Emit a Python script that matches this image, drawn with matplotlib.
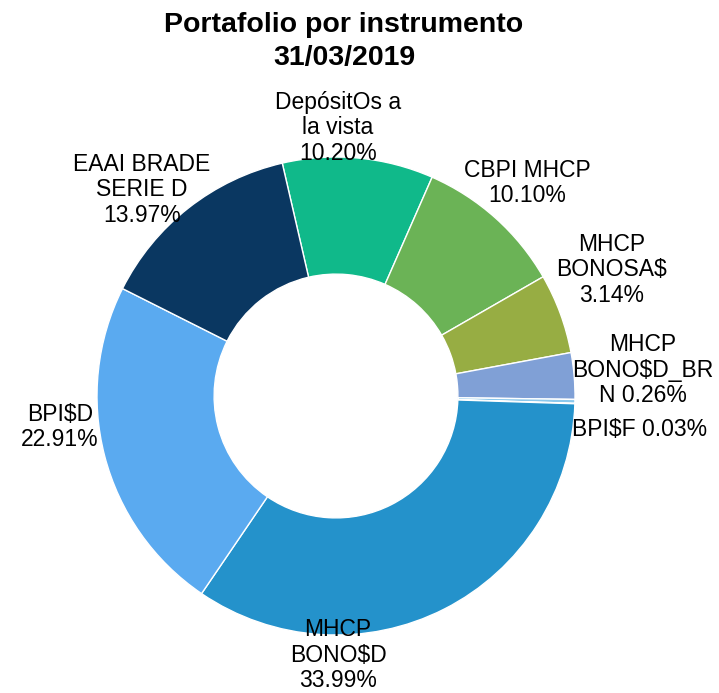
import matplotlib.pyplot as plt

# Data (clockwise from the top)
labels = ['DepósitOs a\nla vista\n10.20%', 'CBPI MHCP\n10.10%', '',
          'MHCP\nBONOSA$\n3.14%', 'MHCP\nBONO$D_BR\nN 0.26%', 'BPI$F 0.03%',
          'MHCP\nBONO$D\n33.99%', 'BPI$D\n22.91%', 'EAAI BRADE\nSERIE D\n13.97%']
values = [10.20, 10.10, 5.40, 3.14, 0.26, 0.03, 33.99, 22.91, 13.97]
colors = ['#10B98A', '#6BB356', '#97AD43', '#80A0D6', '#8CC8EC', '#5BAEE0',
          '#2492CB', '#5AAAF0', '#0A3761']

# label centres in pixels of the 719x693 picture
label_px = [(338, 128), (527, 183), None, (612, 270), (643, 370), (640, 430),
            (338, 655), (60, 427), (142, 190)]

plt.rcParams['font.family'] = ['Liberation Sans', 'DejaVu Sans']

W, H = 719, 693
cx, cy, r = 336, 396, 239
fig = plt.figure(figsize=(W / 100, H / 100), dpi=100)
ax = fig.add_axes([(cx - r) / W, (H - cy - r) / H, 2 * r / W, 2 * r / H])

wedges, _ = ax.pie(values, colors=colors, startangle=103, counterclock=False,
                   radius=1, wedgeprops=dict(width=0.49, edgecolor='white', linewidth=1.0))
ax.set_xlim(-1, 1)
ax.set_ylim(-1, 1)
ax.set_aspect('equal')
ax.axis('off')

for lab, pos in zip(labels, label_px):
    if pos is None:
        continue
    x = (pos[0] - cx) / r
    y = (cy - pos[1]) / r
    ax.text(x, y, lab, ha='center', va='center', fontsize=16.5,
            linespacing=1.15, clip_on=False)

fig.text(344 / W, 1 - 42 / H, 'Portafolio por instrumento\n31/03/2019',
         ha='center', va='center', fontsize=20.5, fontweight='bold', linespacing=1.35)

fig.savefig('out.png', dpi=100)
